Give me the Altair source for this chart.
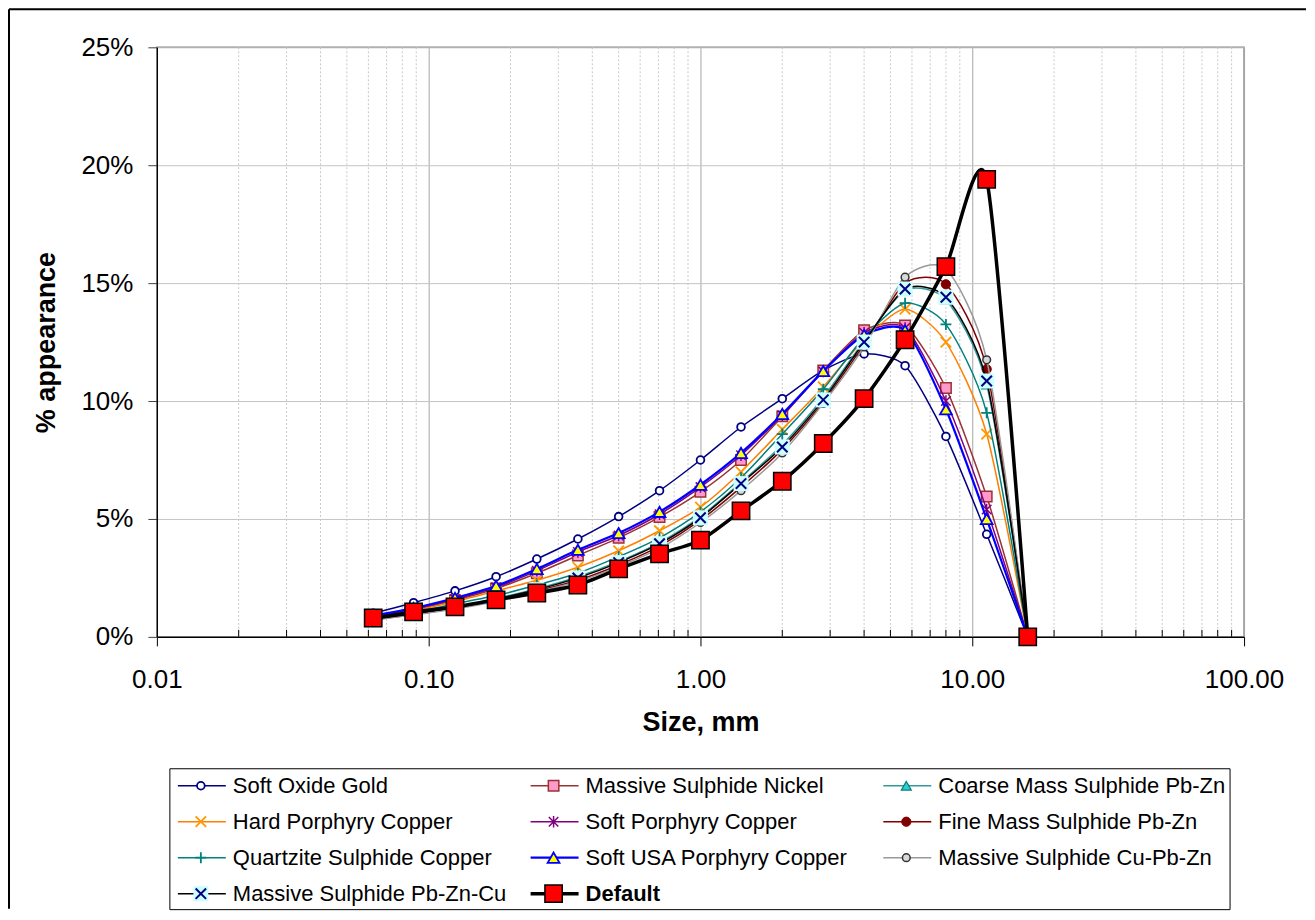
import altair as alt
import pandas as pd

# ---------------- data ----------------
sizes = [0.0625, 0.088, 0.125, 0.177, 0.25, 0.354, 0.5, 0.707, 1.0, 1.41,
         2.0, 2.83, 4.0, 5.66, 8.0, 11.3, 16.0]

soft_oxide_gold = [1.0, 1.45, 1.95, 2.55, 3.3, 4.15, 5.1, 6.2, 7.5, 8.9,
                   10.1, 11.3, 12.0, 11.5, 8.5, 4.35, 0.0]
massive_sulphide_nickel = [0.85, 1.15, 1.55, 2.05, 2.7, 3.45, 4.2, 5.08, 6.15, 7.5,
                           9.35, 11.3, 13.0, 13.2, 10.55, 5.95, 0.0]
coarse_mass_sulphide_pbzn = [0.76, 0.99, 1.27, 1.63, 2.04, 2.55, 3.2, 4.0, 5.1, 6.55,
                             8.15, 10.15, 12.55, 14.7, 14.3, 10.7, 0.0]
hard_porphyry_copper = [0.8, 1.1, 1.5, 1.95, 2.4, 2.95, 3.65, 4.5, 5.5, 7.0,
                        8.8, 10.6, 12.6, 13.9, 12.5, 8.6, 0.0]
soft_porphyry_copper = [0.88, 1.18, 1.6, 2.1, 2.8, 3.6, 4.3, 5.2, 6.35, 7.7,
                        9.4, 11.25, 12.9, 13.1, 10.0, 5.4, 0.0]
fine_mass_sulphide_pbzn = [0.73, 0.95, 1.2, 1.55, 1.95, 2.4, 3.05, 3.85, 4.95, 6.35,
                           7.95, 9.95, 12.4, 15.0, 14.95, 11.35, 0.0]
quartzite_sulphide_copper = [0.78, 1.05, 1.4, 1.75, 2.2, 2.7, 3.4, 4.2, 5.3, 6.75,
                             8.6, 10.5, 12.7, 14.15, 13.25, 9.5, 0.0]
soft_usa_porphyry_copper = [0.9, 1.22, 1.65, 2.16, 2.88, 3.69, 4.4, 5.3, 6.45, 7.8,
                            9.45, 11.27, 12.8, 13.0, 9.65, 5.0, 0.0]
massive_sulphide_cupbzn = [0.72, 0.93, 1.18, 1.5, 1.9, 2.35, 2.98, 3.75, 4.85, 6.2,
                           7.8, 9.9, 12.3, 15.25, 15.6, 11.75, 0.0]
massive_sulphide_pbzncu = [0.75, 0.98, 1.25, 1.6, 2.0, 2.5, 3.15, 3.95, 5.05, 6.5,
                           8.05, 10.05, 12.5, 14.75, 14.4, 10.85, 0.0]
default_curve = [0.8, 1.06, 1.27, 1.57, 1.86, 2.2, 2.88, 3.52, 4.1, 5.34,
                 6.6, 8.2, 10.1, 12.6, 15.7, 19.4, 0.0]

series_names = [
    "Soft Oxide Gold", "Massive Sulphide Nickel", "Coarse Mass Sulphide Pb-Zn",
    "Hard Porphyry Copper", "Soft Porphyry Copper", "Fine Mass Sulphide Pb-Zn",
    "Quartzite Sulphide Copper", "Soft USA Porphyry Copper", "Massive Sulphide Cu-Pb-Zn",
    "Massive Sulphide Pb-Zn-Cu", "Default",
]
series_values = [
    soft_oxide_gold, massive_sulphide_nickel, coarse_mass_sulphide_pbzn,
    hard_porphyry_copper, soft_porphyry_copper, fine_mass_sulphide_pbzn,
    quartzite_sulphide_copper, soft_usa_porphyry_copper, massive_sulphide_cupbzn,
    massive_sulphide_pbzncu, default_curve,
]

x_tick_values = [0.01, 0.1, 1, 10, 100]
y_tick_values = [0, 5, 10, 15, 20, 25]
minor_multipliers = [2, 3, 4, 5, 6, 7, 8, 9]
minor_decades = [0.01, 0.1, 1, 10]
minor_ticks = [m * d for d in minor_decades for m in minor_multipliers]

# ---------------- styles ----------------
FONT = "Liberation Sans"
X_PATH = "M-1,-1L1,1M-1,1L1,-1"
STAR_PATH = "M-1,-1L1,1M-1,1L1,-1M0,-1.2L0,1.2"
PLUS_PATH = "M-1,0L1,0M0,-1L0,1"
TENSION = 0.3

styles = {
    "Soft Oxide Gold": dict(line="#000080", lw=1.5, markers=[
        dict(shape="circle", size=60, filled=True, fill="white", stroke="#000080", strokeWidth=1.8)]),
    "Massive Sulphide Nickel": dict(line="#993333", lw=1.5, markers=[
        dict(shape="square", size=110, filled=True, fill="#FF99CC", stroke="#993333", strokeWidth=1.5)]),
    "Coarse Mass Sulphide Pb-Zn": dict(line="#339999", lw=1.5, markers=[
        dict(shape="triangle-up", size=100, filled=True, fill="#33CCCC", stroke="#008080", strokeWidth=1.2)]),
    "Hard Porphyry Copper": dict(line="#FF7F00", lw=1.5, markers=[
        dict(shape=X_PATH, size=110, filled=False, stroke="#FF9900", strokeWidth=1.8)]),
    "Soft Porphyry Copper": dict(line="#800080", lw=1.5, markers=[
        dict(shape=STAR_PATH, size=90, filled=False, stroke="#800080", strokeWidth=1.5)]),
    "Fine Mass Sulphide Pb-Zn": dict(line="#800000", lw=1.5, markers=[
        dict(shape="circle", size=85, filled=True, fill="#800000", stroke="#800000", strokeWidth=1)]),
    "Quartzite Sulphide Copper": dict(line="#008080", lw=1.5, markers=[
        dict(shape=PLUS_PATH, size=120, filled=False, stroke="#008080", strokeWidth=1.8)]),
    "Soft USA Porphyry Copper": dict(line="#0000FF", lw=2.2, markers=[
        dict(shape="triangle-up", size=140, filled=True, fill="#FFFF00", stroke="#0000FF", strokeWidth=1.8)]),
    "Massive Sulphide Cu-Pb-Zn": dict(line="#999999", lw=1.5, markers=[
        dict(shape="circle", size=60, filled=True, fill="#D9D9D9", stroke="#333333", strokeWidth=1.5)]),
    "Massive Sulphide Pb-Zn-Cu": dict(line="#000000", lw=1.5, markers=[
        dict(shape="square", size=225, filled=True, fill="#CCFFFF", strokeWidth=0),
        dict(shape=X_PATH, size=110, filled=False, stroke="#000080", strokeWidth=2)]),
    "Default": dict(line="#000000", lw=3.5, bold=True, markers=[
        dict(shape="square", size=300, filled=True, fill="#FF0000", stroke="#000000", strokeWidth=1.5)]),
}

# ---------------- main plot ----------------
W, H = 1088, 590

x_axis = alt.Axis(
    values=x_tick_values, labelExpr="format(datum.value, '.2f')",
    labelFont=FONT, labelFontSize=26, labelColor="black", labelPadding=21,
    labelFlush=False, labelOverlap=False,
    tickSize=9, tickColor="black", domainColor="black", domainWidth=1.2,
    grid=True, gridColor="#a6a6a6", gridWidth=1,
    title="Size, mm", titleFont=FONT, titleFontSize=27, titleFontWeight="bold",
    titleColor="black", titleX=W / 2, titleY=86, titleAlign="center", titleBaseline="middle",
)
y_axis = alt.Axis(
    values=y_tick_values, labelExpr="datum.value + '%'",
    labelFont=FONT, labelFontSize=26, labelColor="black", labelPadding=15,
    tickSize=9, tickColor="#404040", domainColor="black", domainWidth=1.2,
    grid=True, gridColor="#c4c4c4", gridWidth=1,
    title="% appearance", titleFont=FONT, titleFontSize=27, titleFontWeight="bold",
    titleColor="black", titleX=-110, titleY=H / 2, titleAngle=270,
    titleAlign="center", titleBaseline="middle",
)

x_enc = alt.X("size:Q", scale=alt.Scale(type="log", domain=[0.01, 100], nice=False), axis=x_axis)
y_enc = alt.Y("value:Q", scale=alt.Scale(domain=[0, 25], nice=False), axis=y_axis)

minor_df = pd.DataFrame({"size": minor_ticks})
one_row = pd.DataFrame({"k": [0]})

main_layers = [
    alt.Chart(minor_df).mark_rule(color="#c8c8c8", strokeDash=[2, 2], strokeWidth=1)
    .encode(x=x_enc, y=alt.value(0), y2=alt.value(H)),
    alt.Chart(minor_df).mark_rule(color="black", strokeWidth=1)
    .encode(x=x_enc, y=alt.value(H - 7), y2=alt.value(H)),
    # outer chart frame (left and top edges)
    alt.Chart(one_row).mark_rule(color="black", strokeWidth=2)
    .encode(x=alt.value(-148), y=alt.value(-38), y2=alt.value(862)),
    alt.Chart(one_row).mark_rule(color="black", strokeWidth=2)
    .encode(x=alt.value(-148), x2=alt.value(1150), y=alt.value(-38)),
]

for name, vals in zip(series_names, series_values):
    st = styles[name]
    df = pd.DataFrame({"size": sizes, "value": vals, "series": name})
    main_layers.append(
        alt.Chart(df).mark_line(interpolate="cardinal", tension=TENSION,
                                color=st["line"], strokeWidth=st["lw"])
        .encode(x=x_enc, y=y_enc)
    )
    for m in st["markers"]:
        main_layers.append(
            alt.Chart(df).mark_point(opacity=1, **m).encode(x=x_enc, y=y_enc)
        )

main = alt.layer(*main_layers)

# ---------------- legend (drawn with its own scales) ----------------
legend_df = pd.DataFrame({
    "series": series_names,
    "col": [i % 3 for i in range(len(series_names))],
    "row": [i // 3 for i in range(len(series_names))],
})
leg_x = alt.X("col:Q", scale=alt.Scale(domain=[0, 2], range=[44, 750]), axis=None)
leg_y = alt.Y("row:Q", scale=alt.Scale(domain=[0, 3], range=[739, 847]), axis=None)

legend_layers = [
    alt.Chart(one_row).mark_rect(fillOpacity=0, stroke="black", strokeWidth=1)
    .encode(x=alt.value(13), x2=alt.value(1074), y=alt.value(722), y2=alt.value(863)),
]
for name in series_names:
    st = styles[name]
    sub = legend_df[legend_df["series"] == name]
    legend_layers.append(
        alt.Chart(sub).mark_rule(color=st["line"], strokeWidth=st["lw"], xOffset=-23, x2Offset=25)
        .encode(x=leg_x, x2=alt.X2("col"), y=leg_y)
    )
    for m in st["markers"]:
        legend_layers.append(
            alt.Chart(sub).mark_point(opacity=1, **m).encode(x=leg_x, y=leg_y)
        )
    legend_layers.append(
        alt.Chart(sub).mark_text(align="left", baseline="middle", dx=32, font=FONT, fontSize=22,
                                 fontWeight="bold" if st.get("bold") else "normal", color="black")
        .encode(x=leg_x, y=leg_y, text="series:N")
    )

legend = alt.layer(*legend_layers)

chart = (
    alt.layer(main, legend)
    .resolve_scale(x="independent", y="independent")
    .properties(width=W, height=H, padding=0, background="white")
    .configure_view(stroke="#888888", strokeWidth=1.5)
)

chart.save("out.html", embed_options={"renderer": "svg", "actions": False})
